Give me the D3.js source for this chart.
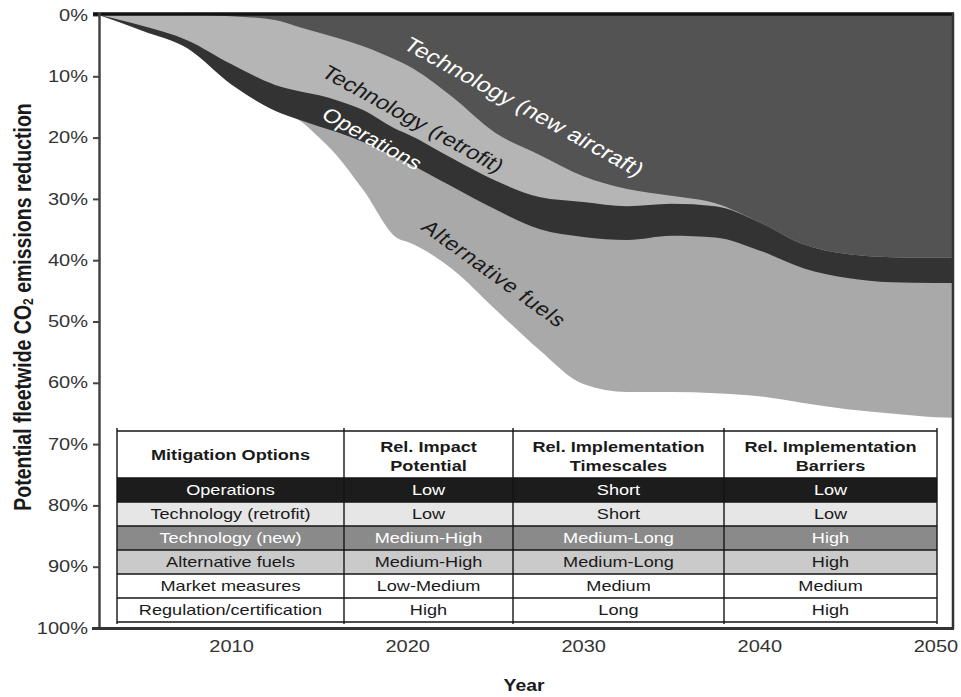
<!DOCTYPE html>
<html><head><meta charset="utf-8">
<script src="https://cdn.jsdelivr.net/npm/d3@7"></script>
<style>
html,body{margin:0;padding:0;background:#fff;}
svg{display:block;font-family:"Liberation Sans",Arial,Helvetica,sans-serif;}
</style></head><body>
<svg id="chart" width="961" height="697"></svg>
<script>
// ---------- data (layer thickness, % points of fleetwide CO2 reduction) ----------
const years        = [2002.5, 2005, 2007.5, 2010, 2012.5, 2014, 2015, 2016, 2017.5, 2019.5, 2020, 2022.5, 2025, 2027.5, 2030, 2032.5, 2035, 2037.5, 2040, 2042.5, 2045, 2047.5, 2050, 2051];
const techNew      = [0, 0, 0, 0.2, 0.8, 2.1, 2.9, 3.7, 5.1, 7.5, 8.2, 13.2, 19.2, 22.8, 26.3, 28.4, 29.5, 30.7, 33.8, 37.4, 39.0, 39.5, 39.6, 39.6];
const techRetrofit = [0, 1.8, 4.1, 7.8, 10.6, 10.4, 10.2, 10.2, 10.4, 11.3, 11.2, 10.1, 7.8, 6.9, 4.2, 2.8, 1.3, 0.5, 0, 0, 0, 0, 0, 0];
const operations   = [0, 0.8, 1.3, 3.3, 4.2, 4.7, 5.1, 5.2, 5.2, 4.6, 4.7, 4.6, 4.7, 5.2, 5.7, 5.5, 5.2, 5.1, 4.6, 3.9, 3.9, 4.1, 4.1, 4.1];
const altFuels     = [0, 0, 0, 0, 0, 0.2, 1.8, 3.8, 7.8, 13.1, 12.9, 13.4, 16.3, 19.7, 24.0, 24.8, 25.5, 25.4, 23.8, 22.0, 21.4, 21.4, 21.9, 22.0];

const seriesKeys   = ["techNew", "techRetrofit", "operations", "altFuels"];
const seriesLabels = ["Technology (new aircraft)", "Technology (retrofit)", "Operations", "Alternative fuels"];

const yTicks = [0, 10, 20, 30, 40, 50, 60, 70, 80, 90, 100];
const xTicks = [2010, 2020, 2030, 2040, 2050];

const tableHeaders = [["Mitigation Options"], ["Rel. Impact", "Potential"], ["Rel. Implementation", "Timescales"], ["Rel. Implementation", "Barriers"]];
const mitigationOptions = ["Operations", "Technology (retrofit)", "Technology (new)", "Alternative fuels", "Market measures", "Regulation/certification"];
const impactPotential   = ["Low", "Low", "Medium-High", "Medium-High", "Low-Medium", "High"];
const timescales        = ["Short", "Short", "Medium-Long", "Medium-Long", "Medium", "Long"];
const barriers          = ["Low", "Low", "High", "High", "Medium", "High"];

// ---------- setup ----------
const SX = 1.25; // horizontal stretch of the lettering in the reference
const FONT = '"Liberation Sans", Arial, Helvetica, sans-serif';
const svg = d3.select("#chart");
const x = d3.scaleLinear().domain([2002.5, 2051]).range([99, 953]);
const y = d3.scaleLinear().domain([0, 100]).range([15, 628]);

const rows = years.map((yr, i) => ({year: yr, techNew: techNew[i], techRetrofit: techRetrofit[i], operations: operations[i], altFuels: altFuels[i]}));
const colors = {techNew: "#535353", techRetrofit: "#b5b5b5", operations: "#333333", altFuels: "#a9a9a9"};
const stacked = d3.stack().keys(seriesKeys)(rows);

// painter's order: deepest cumulative first, each filled from 0 down to its cumulative bottom
const area = d3.area()
  .x(d => x(d.data.year))
  .y0(() => y(0))
  .y1(d => y(d[1]))
  .curve(d3.curveMonotoneX);

svg.append("g").selectAll("path")
  .data(stacked.slice().reverse())
  .join("path")
  .attr("d", area)
  .attr("fill", d => colors[d.key]);

// ---------- area labels ----------
const labelSpecs = [
  {key: "techNew", cx: 524, cy: 107, rot: 34.6, fs: 20, fill: "#ffffff", ls: 0.2},
  {key: "techRetrofit", cx: 413, cy: 119, rot: 34.7, fs: 19.5, fill: "#1a1a1a", ls: 0},
  {key: "operations", cx: 372, cy: 139, rot: 35, fs: 19, fill: "#ffffff", ls: 0},
  {key: "altFuels", cx: 494, cy: 274, rot: 42, fs: 19, fill: "#1a1a1a", ls: 0.8}
];
const lg = svg.append("g");
labelSpecs.forEach(s => {
  lg.append("g")
    .attr("transform", `translate(${s.cx},${s.cy}) scale(${SX},1) rotate(${s.rot})`)
    .append("text")
    .attr("text-anchor", "middle")
    .attr("dominant-baseline", "central")
    .attr("font-size", s.fs)
    .attr("letter-spacing", s.ls)
    .attr("fill", s.fill)
    .text(seriesLabels[seriesKeys.indexOf(s.key)]);
});

// ---------- table ----------
const colX = [117, 344, 513, 724, 937];
const tTop = 431, headH = 47, rowH = 24;
const rowFill = ["#1c1c1c", "#e6e6e6", "#8a8a8a", "#cacaca", "#ffffff", "#ffffff"];
const rowText = ["#ffffff", "#1a1a1a", "#ffffff", "#1a1a1a", "#1a1a1a", "#1a1a1a"];
const tg = svg.append("g");
tg.append("rect").attr("x", colX[0]).attr("y", tTop).attr("width", colX[4] - colX[0]).attr("height", headH).attr("fill", "#fff");
const tableCols = [mitigationOptions, impactPotential, timescales, barriers];
mitigationOptions.forEach((_, r) => {
  const ry = tTop + headH + r * rowH;
  tg.append("rect").attr("x", colX[0]).attr("y", ry).attr("width", colX[4] - colX[0]).attr("height", rowH).attr("fill", rowFill[r]);
});
function stext(g, cx, baseY, str, fs, weight, fill) {
  g.append("g").attr("transform", `translate(${cx},${baseY}) scale(${SX},1)`)
    .append("text").attr("text-anchor", "middle").attr("font-size", fs)
    .attr("font-weight", weight).attr("fill", fill).text(str);
}
tableHeaders.forEach((lines, c) => {
  const cx = (colX[c] + colX[c + 1]) / 2;
  if (lines.length === 1) {
    stext(tg, cx, tTop + headH / 2 + 5.3, lines[0], 14.5, "bold", "#1a1a1a");
  } else {
    stext(tg, cx, tTop + 20.5, lines[0], 14.5, "bold", "#1a1a1a");
    stext(tg, cx, tTop + 40, lines[1], 14.5, "bold", "#1a1a1a");
  }
});
tableCols.forEach((vals, c) => {
  const cx = (colX[c] + colX[c + 1]) / 2;
  vals.forEach((v, r) => {
    const ry = tTop + headH + r * rowH + rowH / 2 + 5.2;
    stext(tg, cx, ry, v, 14.5, "normal", rowText[r]);
  });
});
// table lines
const hLines = [tTop, tTop + headH].concat(mitigationOptions.map((_, r) => tTop + headH + (r + 1) * rowH));
tg.selectAll("line.h").data(hLines).join("line").attr("class", "h")
  .attr("x1", colX[0]).attr("x2", colX[4]).attr("y1", d => d).attr("y2", d => d)
  .attr("stroke", "#151515").attr("stroke-width", 1.4);
tg.selectAll("line.v").data(colX).join("line").attr("class", "v")
  .attr("x1", d => d).attr("x2", d => d).attr("y1", tTop - 3).attr("y2", hLines[hLines.length - 1] + 2)
  .attr("stroke", "#151515").attr("stroke-width", 1.4);

// ---------- axes & frame ----------
const yAxis = svg.append("g").attr("transform", "translate(99,0)")
  .call(d3.axisLeft(y).tickValues(yTicks).tickFormat(d => d + "%").tickSize(6).tickPadding(11));
yAxis.attr("font-family", FONT).attr("font-size", 16);
yAxis.select(".domain").remove();
yAxis.selectAll(".tick line").attr("stroke", "#444").attr("stroke-width", 2);
yAxis.selectAll(".tick text").attr("fill", "#333").attr("transform", `scale(${SX},1)`).attr("x", -11 / SX);

const xAxis = svg.append("g").attr("transform", "translate(0,628)")
  .call(d3.axisBottom(x).tickValues(xTicks).tickFormat(d3.format("d")).tickSize(0).tickPadding(13));
xAxis.attr("font-family", FONT).attr("font-size", 16);
xAxis.select(".domain").remove();
xAxis.selectAll(".tick text").attr("fill", "#333").attr("transform", `scale(${SX},1)`);

const fg = svg.append("g");
fg.append("line").attr("x1", 93).attr("x2", 954).attr("y1", 14).attr("y2", 14).attr("stroke", "#111").attr("stroke-width", 3.5);
fg.append("line").attr("x1", 99.5).attr("x2", 99.5).attr("y1", 13).attr("y2", 629).attr("stroke", "#444").attr("stroke-width", 2.5);
fg.append("line").attr("x1", 953).attr("x2", 953).attr("y1", 13).attr("y2", 629).attr("stroke", "#333").attr("stroke-width", 2.5);
fg.append("line").attr("x1", 92).attr("x2", 954).attr("y1", 628.5).attr("y2", 628.5).attr("stroke", "#333").attr("stroke-width", 3);

// axis titles
svg.append("g").attr("transform", `translate(524,691) scale(1.14,1)`)
  .append("text").attr("text-anchor", "middle").attr("font-size", 17).attr("font-weight", "bold").attr("fill", "#1a1a1a").text("Year");

const yl = svg.append("g").attr("transform", `translate(22,307) scale(${SX},1) rotate(-90)`)
  .append("text").attr("text-anchor", "middle").attr("dominant-baseline", "central")
  .attr("font-size", 19.5).attr("font-weight", "bold").attr("fill", "#1a1a1a");
yl.append("tspan").text("Potential fleetwide CO");
yl.append("tspan").attr("font-size", 12).attr("dy", 4).text("2");
yl.append("tspan").attr("dy", -4).text(" emissions reduction");
</script>
</body></html>
